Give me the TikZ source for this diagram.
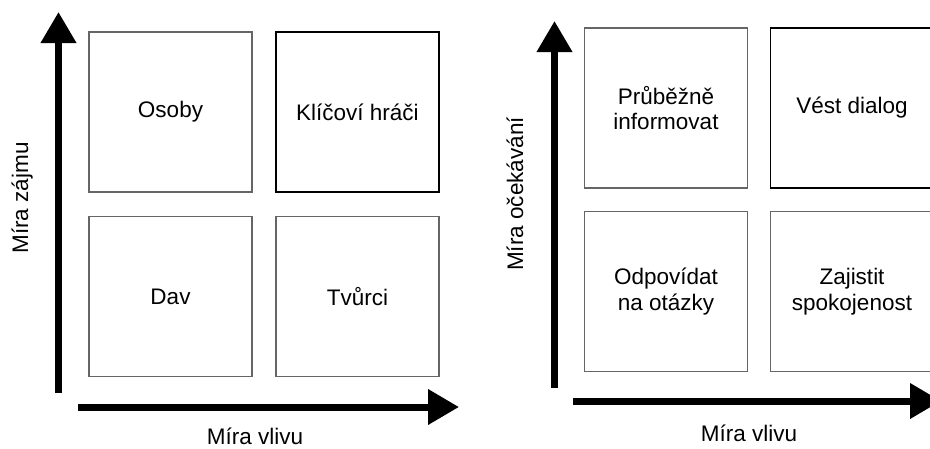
\documentclass[tikz,border=0pt]{standalone}
\usepackage{fontspec}
\setmainfont{Liberation Sans}
\usetikzlibrary{arrows.meta}
\begin{document}
\begin{tikzpicture}[x=1pt,y=-1pt,
  cell/.style={rectangle,draw=black!60,line width=1.1pt,minimum width=163pt,
    minimum height=160pt,inner sep=0pt,align=center,
    font=\fontsize{22.5pt}{25.5pt}\selectfont},
  keycell/.style={cell,draw=black,line width=1.9pt},
  axis/.style={line width=7pt,-{Triangle[width=34pt,length=31pt]}},
  axislabel/.style={font=\fontsize{22.5pt}{25pt}\selectfont,anchor=base,inner sep=0pt}]
\useasboundingbox (0,0) rectangle (930,448);

% left matrix: influence vs. interest
\node[cell]    (osoby) at (170.5,112)   {Osoby};
\node[keycell] (klic)  at (357.5,112)   {Klíčoví hráči};
\node[cell]    (dav)   at (170.5,296.5) {Dav};
\node[cell]    (tvur)  at (357.5,296.5) {Tvůrci};

\coordinate (ly0) at (58.5,393);
\coordinate (ly1) at (58.5,12);
\coordinate (lx0) at (78,407);
\coordinate (lx1) at (459,407);
\draw[axis] (ly0) -- (ly1);
\draw[axis] (lx0) -- (lx1);
\node[axislabel,rotate=90] (lyl) at (28,198) {Míra zájmu};
\node[axislabel] (lxl) at (255,444) {Míra vlivu};

% right matrix: influence vs. expectations
\node[cell]    (prub) at (666,108)   {Průběžně\\informovat};
\node[keycell] (vest) at (852,108)   {Vést dialog};
\node[cell]    (odp)  at (666,291.5) {Odpovídat\\na otázky};
\node[cell]    (zaj)  at (852,291.5) {Zajistit\\spokojenost};

\coordinate (ry0) at (554.5,388);
\coordinate (ry1) at (554.5,21);
\coordinate (rx0) at (573,401);
\coordinate (rx1) at (941,401);
\draw[axis] (ry0) -- (ry1);
\draw[axis] (rx0) -- (rx1);
\node[axislabel,rotate=90] (ryl) at (523,194) {Míra očekávání};
\node[axislabel] (rxl) at (749,441) {Míra vlivu};
\end{tikzpicture}
\end{document}
